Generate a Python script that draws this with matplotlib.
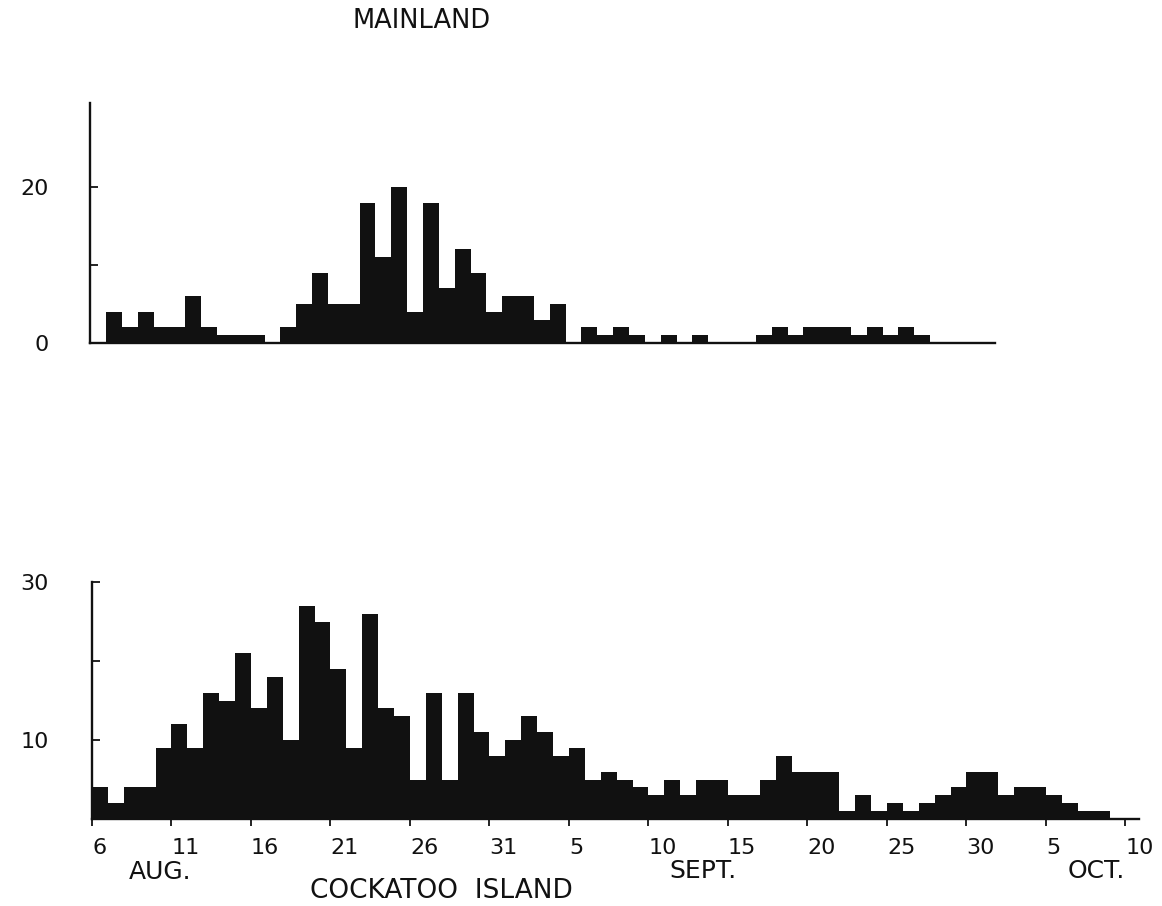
import numpy as np
import matplotlib.pyplot as plt

# daily counts, Mainland (top panel) and Cockatoo Island (bottom panel)
mainland = [4, 2, 4, 2, 2, 6, 2, 1, 1, 1, 0, 2, 5, 9, 5, 5, 18, 11, 20, 4,
            18, 7, 12, 9, 4, 6, 6, 3, 5, 0, 2, 1, 2, 1, 0, 1, 0, 1, 0, 0,
            0, 1, 2, 1, 2, 2, 2, 1, 2, 1, 2, 1]
cockatoo = [4, 2, 4, 4, 9, 12, 9, 16, 15, 21, 14, 18, 10, 27, 25, 19, 9, 26, 14, 13,
            5, 16, 5, 16, 11, 8, 10, 13, 11, 8, 9, 5, 6, 5, 4, 3, 5, 3, 5, 5,
            3, 3, 5, 8, 6, 6, 6, 1, 3, 1, 2, 1, 2, 3, 4, 6, 6, 3, 4, 4,
            3, 2, 1, 1, 0, 0]

date_ticks = list(range(0, 66, 5))
date_labels = ["6", "11", "16", "21", "26", "31", "5", "10", "15", "20",
               "25", "30", "5", "10"]
months = ["AUG.", "SEPT.", "OCT."]

W, H = 1162, 906
ink = "#111111"
plt.rcParams["font.family"] = "DejaVu Sans"

fig = plt.figure(figsize=(W / 100, H / 100), dpi=100)


def px_axes(left, right, bottom, top):
    return fig.add_axes([left / W, 1 - bottom / H, (right - left) / W, (bottom - top) / H])


def style(ax):
    ax.spines["top"].set_visible(False)
    ax.spines["right"].set_visible(False)
    for s in ("left", "bottom"):
        ax.spines[s].set_linewidth(1.7)
        ax.spines[s].set_color(ink)
    ax.patch.set_alpha(0)


# top panel
ax1 = px_axes(90, 995, 343, 103)
ax1.bar(np.arange(len(mainland)), mainland, width=1, align="edge", color=ink, linewidth=0)
ax1.set_xlim(-1.01, 56.09)
ax1.set_ylim(0, 30.77)
style(ax1)
ax1.set_xticks([])
ax1.set_yticks([0, 10, 20])
ax1.set_yticklabels(["0", "", "20"])
ax1.tick_params(axis="y", direction="in", length=6, width=1.3, pad=30,
                labelsize=16, colors=ink)

# bottom panel
ax2 = px_axes(92, 1139, 819, 582)
ax2.bar(np.arange(len(cockatoo)), cockatoo, width=1, align="edge", color=ink, linewidth=0)
ax2.set_xlim(0, 65.85)
ax2.set_ylim(0, 30)
style(ax2)
ax2.set_yticks([10, 20, 30])
ax2.set_yticklabels(["10", "", "30"])
ax2.tick_params(axis="y", direction="in", length=6, width=1.3, pad=31,
                labelsize=16, colors=ink)
ax2.set_xticks(date_ticks)
ax2.set_xticklabels(date_labels, ha="left")
ax2.tick_params(axis="x", direction="out", length=5, width=1.3, pad=9,
                labelsize=16, colors=ink)


def ftext(x, y, s, size):
    fig.text(x / W, 1 - y / H, s, ha="center", va="center", fontsize=size, color=ink)


ftext(160, 872, months[0], 18)
ftext(703, 871, months[1], 18)
ftext(1096, 871, months[2], 18)
ftext(441, 891, "COCKATOO  ISLAND", 19)
ftext(422, 21, "MAINLAND", 18.5)

fig.savefig("out.png", dpi=100, facecolor="white")
